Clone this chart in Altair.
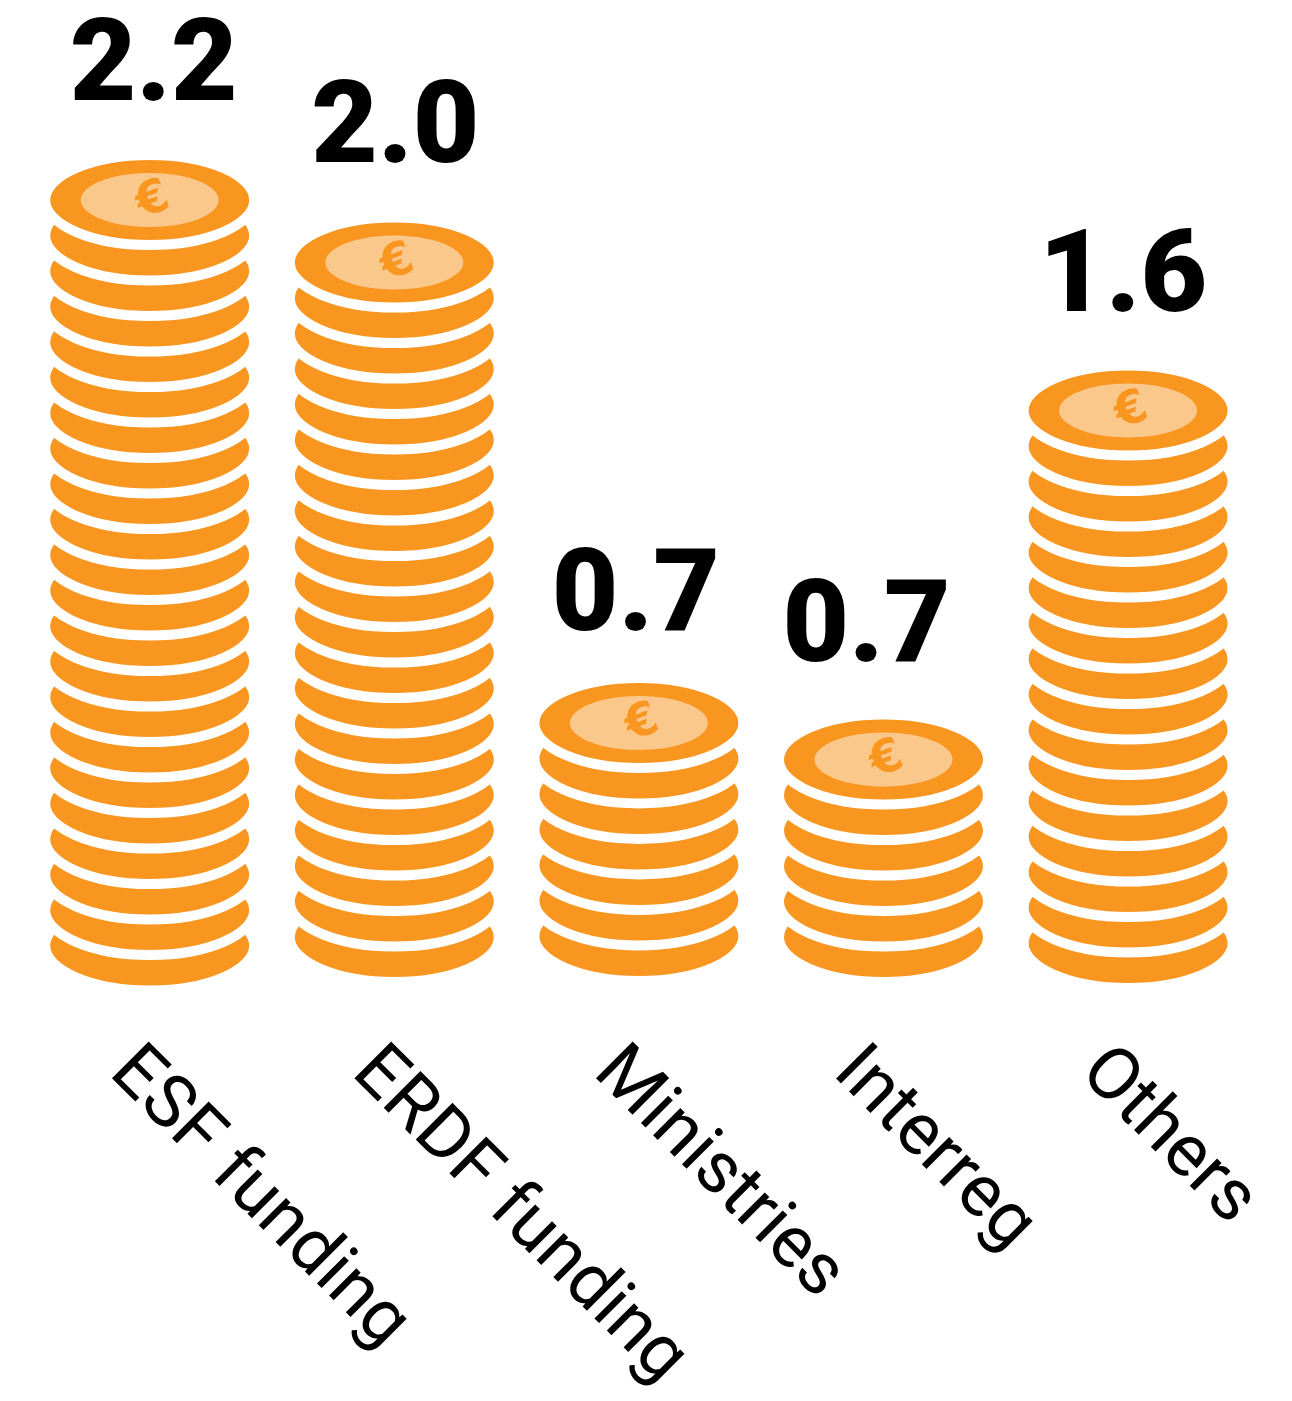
import altair as alt
import pandas as pd

categories = ["ESF funding", "ERDF funding", "Ministries", "Interreg", "Others"]
value_labels = ["2.2", "2.0", "0.7", "0.7", "1.6"]
coin_counts = [22, 20, 7, 6, 16]
stack_floor = [-0.24, 0.0, 0.03, 0.0, -0.17]

ORANGE = "#F99620"
PALE = "#FAC88B"
AXIS_FONT = "Roboto"
VALUE_FONT = "Roboto"

rows = []
for cat, n, floor in zip(categories, coin_counts, stack_floor):
    for i in range(n):
        rows.append({"category": cat, "level": floor + i, "is_top": i == n - 1})
coins = pd.DataFrame(rows)
tops = coins[coins.is_top].copy()
tops["label"] = value_labels

x = alt.X(
    "category:N",
    sort=categories,
    scale=alt.Scale(type="point", domain=categories, range=[141.7, 1120.1], padding=0),
    axis=alt.Axis(
        title=None, domain=False, ticks=False, grid=False,
        labelAngle=45, labelAlign="left", labelBaseline="middle",
        labelFont=AXIS_FONT, labelFontSize=73, labelFontWeight=400, labelColor="black",
        labelPadding=48, labelOverlap=False, labelLimit=0,
        labelBound=False, labelFlush=False,
        labelOffset=alt.expr(
            "datum.value === 'ESF funding' ? -27 : datum.value === 'ERDF funding' ? -29"
            " : datum.value === 'Ministries' ? -32 : datum.value === 'Interreg' ? -37 : -35"
        ),
    ),
)
y = alt.Y("level:Q", scale=alt.Scale(domain=[-2.056, 26.17], nice=False, zero=False), axis=None)


def ellipse(r):
    return f"M-1,0 A1,{r} 0 1,1 1,0 A1,{r} 0 1,1 -1,0 Z"


coin_layer = alt.Chart(coins).mark_point(
    shape=ellipse(45 / 104.5), filled=True, fill=ORANGE, stroke="white",
    strokeWidth=10, opacity=1, size=(2 * 104.5) ** 2,
).encode(x=x, y=y)

face_layer = alt.Chart(tops).mark_point(
    shape=ellipse(27 / 69), filled=True, fill=PALE, stroke=None, opacity=1, size=(2 * 69) ** 2,
).encode(x=x, y=y)

euro_layer = alt.Chart(tops).mark_text(
    text="€", font="DejaVu Sans", fontWeight="bold", fontSize=46, color=ORANGE, angle=340,
    baseline="middle", align="center", dx=3,
).encode(x=x, y=y)

label_offsets = {
    "ESF funding": (4, -100), "ERDF funding": (1, -101), "Ministries": (-3, -93),
    "Interreg": (-17, -99), "Others": (-5, -100),
}
value_layers = [
    alt.Chart(tops[tops.category == cat]).mark_text(
        font=VALUE_FONT, fontWeight=900, fontSize=115, color="black",
        align="center", baseline="alphabetic", dx=dx, dy=dy,
    ).encode(x=x, y=y, text="label:N")
    for cat, (dx, dy) in label_offsets.items()
]

chart = alt.layer(coin_layer, face_layer, euro_layer, *value_layers).properties(
    width=1276, height=1002, background="white",
    autosize=alt.AutoSizeParams(type="none"),
    padding={"left": 0, "top": 0, "right": 0, "bottom": 383},
).configure_view(stroke=None)

chart.save("out.html", embed_options={"renderer": "svg", "actions": False})
